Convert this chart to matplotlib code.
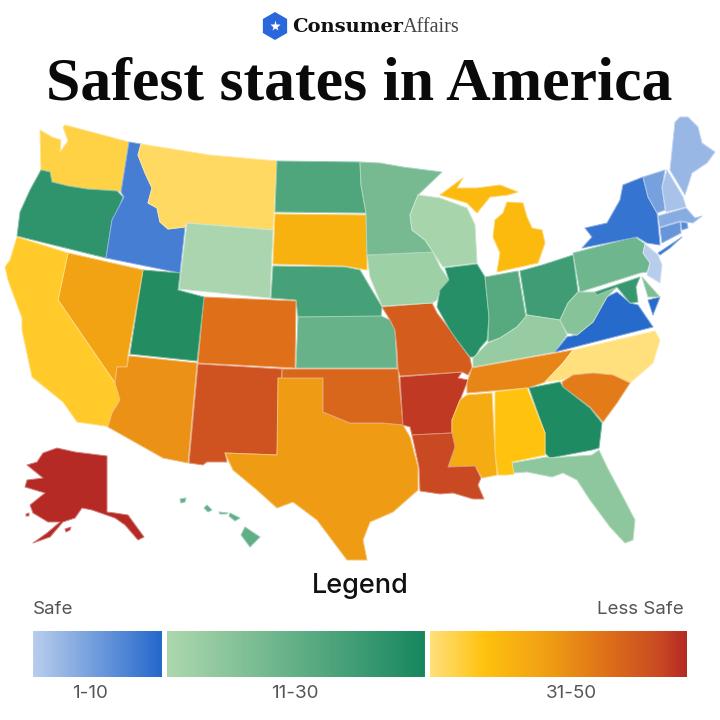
import numpy as np
import matplotlib
matplotlib.use("Agg")
import matplotlib.pyplot as plt
from matplotlib.colors import LinearSegmentedColormap
from matplotlib.patches import Polygon, RegularPolygon

# ---- data ----
TITLE = "Safest states in America"
BRAND_A = "Consumer"
BRAND_B = "Affairs"
LEGEND_TITLE = "Legend"
LEGEND_ENDS = ["Safe", "Less Safe"]
BAND_LABELS = ["1-10", "11-30", "31-50"]
BAND_RANGES = [(1, 10), (11, 30), (31, 50)]

# estimated rank of each state (from its shade)
RANK = {
    "NH": 2, "NJ": 1, "ME": 3, "MA": 4, "VT": 5, "CT": 6, "RI": 7, "ID": 8, "NY": 9, "VA": 10,
    "WY": 11, "WI": 12, "IA": 13, "MN": 18, "FL": 15, "KY": 14, "WV": 16, "KS": 20, "HI": 21,
    "PA": 19, "IN": 22, "ND": 23, "DE": 17, "NE": 24, "OH": 25, "MD": 26, "OR": 27, "UT": 30,
    "IL": 28, "GA": 29,
    "NC": 31, "MT": 32, "WA": 33, "CA": 34, "AL": 35, "MI": 36, "SD": 37, "MS": 38, "NV": 39,
    "TX": 40, "AZ": 41, "TN": 42, "SC": 43, "CO": 44, "OK": 45, "MO": 46, "NM": 47, "LA": 48,
    "AR": 49, "AK": 50,
}

# state outlines
SHAPES = {
    "WA": [[(40,130),(52,137),(61,140),(60,152),(68,141),(63,127),(65,125),(129,142),(121,192),(117,191),(87,189),(68,186),(52,182),(50,172),(41,170)]],
    "OR": [[(41,170),(50,172),(52,182),(68,186),(87,189),(117,191),(123,197),(118,210),(112,220),(106,258),(17,236),(20,212),(30,190)]],
    "ID": [[(129,142),(141,144),(138,155),(145,173),(152,188),(148,203),(157,208),(160,222),(168,229),(185,227),(180,273),(106,258),(112,220),(124,197),(121,192)]],
    "MT": [[(141,144),(210,155),(277,161),(273,230),(187,223),(185,227),(168,229),(160,222),(157,208),(148,203),(152,188),(145,173),(138,155)]],
    "WY": [[(187,223),(273,230),(270,298),(179,289)]],
    "ND": [[(277,161),(360,162),(361,185),(366,213),(275,212)]],
    "SD": [[(275,214),(366,215),(367,255),(367,270),(345,266),(273,264)]],
    "NE": [[(273,266),(345,267),(360,270),(370,287),(382,307),(381,317),(298,317),(296,300),(271,298)]],
    "KS": [[(298,317),(381,316),(390,320),(395,330),(397,368),(296,368)]],
    "CO": [[(204,297),(296,301),(295,368),(198,363)]],
    "UT": [[(143,270),(180,273),(178,290),(204,297),(197,361),(130,354)]],
    "NV": [[(68,253),(143,270),(128,355),(127,367),(117,367),(115,383),(58,300)]],
    "CA": [[(17,237),(68,253),(58,300),(115,383),(120,400),(112,413),(112,427),(77,422),(63,402),(32,377),(22,330),(22,318),(8,280),(5,267),(10,260)]],
    "AZ": [[(129,356),(197,363),(188,463),(163,458),(108,427),(112,413),(120,400),(115,383),(117,367),(127,367)]],
    "NM": [[(198,364),(282,369),(277,455),(225,453),(227,462),(207,462),(203,465),(189,463)]],
    "TX": [[(278,378),(323,378),(323,412),(350,423),(383,423),(403,425),(410,437),(418,467),(418,490),(393,512),(370,522),(363,540),(367,560),(347,560),(317,520),(293,502),(277,508),(257,490),(233,470),(225,453),(277,455)]],
    "OK": [[(282,369),(398,369),(403,425),(383,423),(350,423),(323,412),(323,378),(282,378)]],
    "AR": [[(400,377),(462,372),(458,378),(468,380),(460,400),(452,420),(452,433),(412,435),(410,427),(403,425)]],
    "MO": [[(382,307),(432,303),(437,313),(450,330),(457,340),(470,358),(472,368),(468,375),(462,372),(400,376),(398,369),(397,350),(395,330),(390,320)]],
    "IA": [[(367,255),(433,252),(440,267),(449,280),(440,290),(437,300),(432,303),(382,306),(370,277)]],
    "MN": [[(360,162),(380,163),(403,167),(442,172),(418,195),(410,215),(412,230),(425,240),(433,252),(367,255),(366,213),(361,185)]],
    "WI": [[(418,195),(440,198),(467,208),(475,225),(477,263),(443,267),(433,252),(425,240),(412,230),(410,215)]],
    "IL": [[(445,268),(477,264),(485,277),(489,317),(487,340),(480,348),(475,357),(470,357),(457,340),(450,330),(437,307),(440,290),(449,280)]],
    "IN": [[(485,277),(518,271),(526,318),(517,327),(500,338),(488,342),(489,317)]],
    "OH": [[(520,271),(542,265),(573,255),(578,292),(568,303),(560,320),(540,317),(527,315)]],
    "MI": [[(507,202),(523,203),(527,217),(532,228),(542,230),(545,243),(538,263),(497,272),(500,253),(493,237),(495,220),(503,213)],
           [(463,178),(457,188),(477,188),(500,185),(518,192),(508,195),(490,197),(477,213),(467,203),(440,195)]],
    "KY": [[(527,315),(540,317),(560,320),(567,335),(555,352),(473,367),(473,358),(488,343),(500,338),(517,327)]],
    "TN": [[(472,368),(573,350),(563,363),(545,382),(528,388),(467,393),(467,383)]],
    "NC": [[(573,350),(655,331),(660,340),(653,363),(630,383),(613,375),(593,373),(573,375),(562,380),(545,382),(563,363)]],
    "SC": [[(562,382),(573,375),(593,373),(613,375),(630,383),(617,403),(603,422),(590,407),(563,387)]],
    "GA": [[(529,388),(560,382),(563,387),(590,408),(602,423),(599,448),(592,450),(550,458),(545,453),(545,433)]],
    "FL": [[(512,463),(547,457),(550,458),(592,455),(599,450),(607,467),(623,497),(635,520),(633,540),(625,543),(610,527),(590,500),(577,480),(563,473),(552,477),(527,472),(513,473)]],
    "AL": [[(495,392),(527,388),(545,433),(545,455),(512,462),(514,474),(507,475),(498,475),(495,453)]],
    "MS": [[(467,395),(492,393),(495,453),(497,475),(482,478),(475,466),(448,467),(455,447),(452,433),(452,420),(460,400)]],
    "LA": [[(412,435),(452,433),(455,447),(448,467),(475,466),(481,478),(478,485),(484,499),(473,499),(453,493),(440,494),(420,491),(419,467)]],
    "VA": [[(555,352),(567,337),(577,335),(593,322),(607,297),(617,292),(630,303),(638,305),(653,327)],
           [(648,300),(660,297),(653,315)]],
    "WV": [[(578,292),(595,292),(597,295),(617,287),(607,297),(593,322),(577,335),(567,333),(560,320),(568,303)]],
    "PA": [[(573,253),(635,237),(645,244),(643,253),(650,263),(647,272),(640,273),(580,292)]],
    "MD": [[(595,292),(640,277),(636,287),(638,302),(630,303),(617,287),(597,295)]],
    "DE": [[(642,277),(660,297),(648,297)]],
    "NJ": [[(645,244),(658,255),(662,265),(660,283),(647,275),(650,263),(643,253)]],
    "NY": [[(643,177),(648,197),(657,213),(660,245),(647,243),(637,237),(582,248),(592,237),(585,228),(607,223),(620,200),(623,185)],
           [(658,253),(682,237),(670,248),(660,255)]],
    "VT": [[(643,177),(665,170),(662,187),(665,210),(657,213),(648,197)]],
    "NH": [[(667,170),(683,197),(686,207),(666,212),(662,187)]],
    "ME": [[(670,170),(675,122),(680,117),(688,117),(698,127),(702,143),(715,152),(707,163),(692,173),(685,195)]],
    "MA": [[(658,216),(686,208),(695,218),(702,216),(693,223),(680,221),(660,227)]],
    "CT": [[(660,228),(680,222),(681,233),(662,243)]],
    "RI": [[(681,222),(687,223),(688,228),(682,230)]],
    "AK": [[(57,448),(75,452),(107,456),(107,512),(115,513),(128,515),(144,537),(138,540),(125,525),(115,518),(92,510),(82,508),(75,518),(63,522),(50,537),(33,543),(47,533),(60,522),(48,522),(33,513),(30,505),(45,493),(25,487),(27,480),(43,478),(27,465),(37,462),(43,453)],
           [(65,529),(71,527),(70,530),(66,532)],
           [(26,514),(29,513),(29,516),(26,516)]],
    "HI": [[(245,527),(260,537),(250,547),(241,535)],
           [(230,513),(240,518),(235,521),(229,516)],
           [(207,505),(212,510),(208,512),(204,508)],
           [(180,499),(186,498),(185,502),(181,503)],
           [(219,512),(228,513),(226,514),(220,514)]],
}

# colour ramp anchors per rank
RAMP_RANKS = [1, 10, 11, 30, 31, 35, 40, 44, 48, 50]
RAMP_COLORS = ["#b8cdec", "#2468cc", "#aed8ae", "#17875f", "#ffe07c", "#ffc20e",
               "#ef9c14", "#df7119", "#c94a22", "#b52a24"]

# legend band ends and label centres
BAND_X = [(33, 162), (167, 425), (430, 687)]
BAND_LABEL_X = [90, 295, 571]

# ---- build ----
ramp = LinearSegmentedColormap.from_list(
    "safety", [((r - 1) / 49, c) for r, c in zip(RAMP_RANKS, RAMP_COLORS)], N=512)
color_of = lambda r: ramp((np.asarray(r, float) - 1) / 49)

plt.rcParams["font.family"] = ["Inter", "DejaVu Sans"]
fig = plt.figure(figsize=(7.2, 7.2), dpi=100, facecolor="white")
ax = fig.add_axes([0, 0, 1, 1])

for st, parts in SHAPES.items():
    c = color_of(RANK[st])
    edge = tuple(0.6 * np.array(c[:3]) + 0.4)
    for p in parts:
        ax.add_patch(Polygon(p, closed=True, facecolor=c, edgecolor=edge, lw=0.7,
                             joinstyle="round", gid=st))

# header
ax.add_patch(RegularPolygon((275, 26), 6, radius=14, facecolor="#2a66dc", edgecolor="none"))
ax.plot([275], [26], marker="*", ms=8, color="white", mec="none")
ax.text(292, 27, BRAND_A, family="DejaVu Serif", weight="bold", fontsize=14,
        color="#111111", ha="left", va="center")
ax.text(403, 27, BRAND_B, family="Liberation Serif", fontsize=14.5, color="#444444",
        ha="left", va="center")
ax.text(359, 85, TITLE, family="Liberation Serif", weight="bold", fontsize=44.5,
        color="#0a0a0a", ha="center", va="center")

# legend
for (x0, x1), (r0, r1), lab, lx in zip(BAND_X, BAND_RANGES, BAND_LABELS, BAND_LABEL_X):
    grad = np.linspace(r0, r1, 256)[None, :]
    ax.imshow(color_of(grad), extent=(x0, x1, 677, 631), aspect="auto", zorder=2,
              interpolation="bilinear")
    ax.text(lx, 694, lab, fontsize=13.5, color="#555555", ha="center", va="center")
ax.text(360, 586, LEGEND_TITLE, fontsize=19.5, weight="medium", color="#111111",
        ha="center", va="center")
ax.text(33, 610, LEGEND_ENDS[0], fontsize=13.5, color="#555555", ha="left", va="center")
ax.text(684, 610, LEGEND_ENDS[1], fontsize=13.5, color="#555555", ha="right", va="center")

ax.set_xlim(0, 720)
ax.set_ylim(720, 0)
ax.axis("off")
fig.savefig("out.png", dpi=100, facecolor="white")
